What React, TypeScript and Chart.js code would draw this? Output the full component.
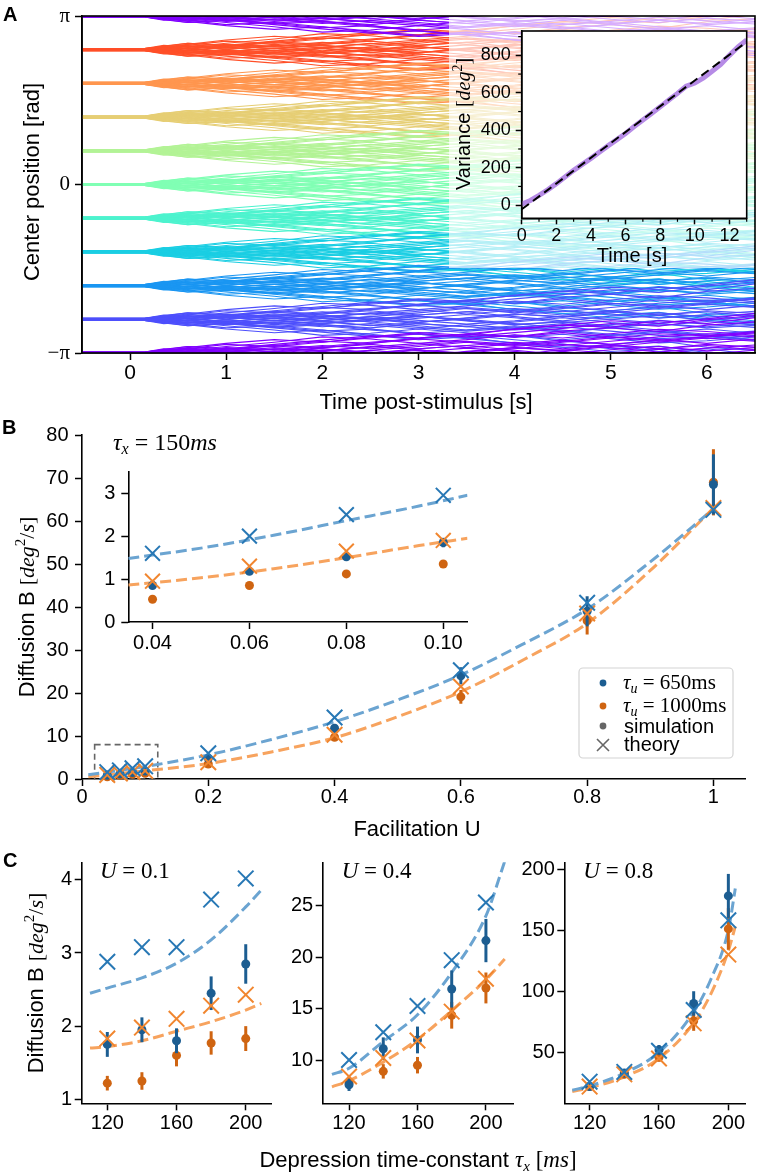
import React, { useEffect, useRef } from 'react';
import { Chart, registerables } from 'chart.js';
Chart.register(...registerables);

const SANS = '"Liberation Sans", Arial, Helvetica, sans-serif';
const SERIF = '"Liberation Serif", "DejaVu Serif", "Times New Roman", serif';

// ---------------- Panel A data ----------------
const timeGrid = [-0.5, 0.15, 0.35, 0.6, 1.0, 1.5, 2.0, 2.5, 3.0, 3.5, 4.0, 4.5, 5.0, 5.5, 6.0, 6.5];
const clusterCentersPi = [-1, -0.8, -0.6, -0.4, -0.2, 0, 0.2, 0.4, 0.6, 0.8];
const clusterColors = ['#8000ff', '#4d4ffc', '#1a96f2', '#1acee3', '#4df3ce', '#80ffb4', '#b3f396', '#e6ce74', '#ff964f', '#ff4f28'];
// deviations (rad) of individual trajectories from their starting position
const offsetPatterns = [
  [0.01, 0.01, 0.05, 0.10, 0.18, 0.25, 0.20, 0.30, 0.38, 0.33, 0.45, 0.52, 0.48, 0.60, 0.55, 0.66],
  [-0.01, -0.01, -0.04, -0.09, -0.05, -0.14, -0.22, -0.18, -0.28, -0.35, -0.30, -0.41, -0.47, -0.40, -0.52, -0.58],
  [0.0, 0.0, 0.02, -0.03, 0.06, 0.02, 0.10, 0.16, 0.08, 0.14, 0.05, -0.03, 0.06, 0.12, 0.04, 0.10],
  [-0.02, -0.02, -0.06, -0.02, -0.10, -0.06, 0.02, -0.05, -0.12, -0.20, -0.14, -0.22, -0.30, -0.25, -0.18, -0.26],
  [0.02, 0.02, 0.08, 0.05, 0.12, 0.20, 0.30, 0.26, 0.18, 0.25, 0.34, 0.28, 0.36, 0.44, 0.40, 0.33],
  [0.0, 0.0, 0.01, 0.06, 0.00, -0.08, -0.04, -0.12, -0.06, 0.03, 0.10, 0.04, 0.12, 0.20, 0.28, 0.22],
  [-0.01, -0.01, -0.03, -0.08, -0.16, -0.12, -0.20, -0.28, -0.36, -0.30, -0.38, -0.46, -0.55, -0.50, -0.62, -0.70],
  [0.01, 0.01, 0.04, 0.01, 0.07, 0.13, 0.08, 0.00, 0.06, -0.02, -0.10, -0.05, -0.14, -0.08, -0.16, -0.11],
  [0.0, 0.0, -0.01, 0.04, 0.09, 0.05, 0.12, 0.20, 0.27, 0.35, 0.30, 0.38, 0.30, 0.22, 0.30, 0.38],
  [0.02, 0.02, 0.06, 0.12, 0.08, 0.16, 0.24, 0.32, 0.28, 0.36, 0.44, 0.52, 0.60, 0.55, 0.64, 0.74],
  [-0.02, -0.02, -0.05, -0.01, 0.04, -0.02, -0.08, -0.02, 0.05, 0.00, -0.08, -0.16, -0.10, -0.02, -0.09, -0.15],
  [0.01, 0.01, 0.03, -0.02, -0.07, -0.15, -0.10, -0.18, -0.26, -0.20, -0.12, -0.20, -0.28, -0.36, -0.32, -0.40],
  [-0.01, -0.01, -0.07, -0.12, -0.08, -0.02, 0.05, 0.00, 0.08, 0.14, 0.20, 0.14, 0.22, 0.30, 0.36, 0.30],
  [0.0, 0.0, 0.02, 0.07, 0.03, 0.10, 0.04, 0.11, 0.18, 0.10, 0.17, 0.24, 0.16, 0.08, 0.14, 0.06],
  [-0.01, -0.01, -0.02, -0.06, -0.01, -0.07, -0.14, -0.08, -0.15, -0.22, -0.16, -0.08, -0.16, -0.24, -0.30, -0.38],
  [0.01, 0.01, 0.0, 0.03, -0.04, 0.03, -0.03, 0.05, -0.02, -0.09, -0.03, 0.06, 0.00, -0.07, 0.02, -0.05],
];
const xTicksA = [0, 1, 2, 3, 4, 5, 6];
const xTickLabelsA = ['0', '1', '2', '3', '4', '5', '6'];
const yTicksA = [-Math.PI, 0, Math.PI];
const yTickLabelsA = ['\u2212\u03c0', '0', '\u03c0'];

// inset A
const varTime = [0, 0.5, 1, 1.5, 2, 2.5, 3, 3.5, 4, 4.5, 5, 5.5, 6, 6.5, 7, 7.5, 8, 8.5, 9, 9.5, 10, 10.5, 11, 11.5, 12, 12.5, 13];
const varValues = [5, 25, 52, 82, 115, 150, 186, 218, 250, 284, 318, 350, 383, 420, 455, 490, 525, 562, 597, 635, 652, 680, 715, 752, 800, 845, 882];
const fitTime = [0, 13];
const fitValues = [-22, 872];
const insetAxTicks = [0, 2, 4, 6, 8, 10, 12];
const insetAxMinor = [1, 3, 5, 7, 9, 11, 13];
const insetAyTicks = [0, 200, 400, 600, 800];
const insetAyMinor = [100, 300, 500, 700, 900];

// ---------------- Panel B data ----------------
const uVals = [0.04, 0.06, 0.08, 0.1, 0.2, 0.4, 0.6, 0.8, 1.0];
const theoryBlueB = [1.6, 2.0, 2.5, 2.95, 6.0, 14.3, 25.3, 41.0, 62.6];
const theoryOrangeB = [0.95, 1.3, 1.65, 1.9, 3.9, 10.3, 21.5, 38.5, 63.0];
const simBlueB = [0.85, 1.18, 1.52, 1.85, 4.8, 11.8, 24.0, 39.0, 68.5];
const simOrangeB = [0.53, 0.85, 1.12, 1.35, 3.5, 9.7, 19.1, 36.8, 69.0];
const errBlueB = [0.06, 0.07, 0.09, 0.11, 0.4, 1.0, 2.0, 3.5, 7.0];
const errOrangeB = [0.05, 0.06, 0.07, 0.09, 0.3, 0.8, 1.6, 3.2, 7.7];
const curveU = [0.01, 0.1, 0.2, 0.3, 0.4, 0.5, 0.6, 0.7, 0.8, 0.9, 1.0];
const curveBlueB = [1.0, 2.9, 5.6, 9.2, 13.3, 18.4, 24.2, 31.5, 39.5, 50.5, 62.8];
const curveOrangeB = [0.5, 1.9, 3.6, 6.3, 9.6, 14.5, 20.3, 27.8, 36.2, 48.5, 63.0];
const xTicksB = [0, 0.2, 0.4, 0.6, 0.8, 1.0];
const xTickLabelsB = ['0', '0.2', '0.4', '0.6', '0.8', '1'];
const yTicksB = [0, 10, 20, 30, 40, 50, 60, 70, 80];
const zoomBoxU = [0.02, 0.12];
const zoomBoxB = [0, 8];
// inset B
const insetCurveU = [0.035, 0.05, 0.065, 0.08, 0.095, 0.105];
const insetCurveBlue = [1.48, 1.72, 2.02, 2.36, 2.7, 2.95];
const insetCurveOrange = [0.86, 1.03, 1.24, 1.5, 1.78, 1.95];
const xTicksInsetB = [0.04, 0.06, 0.08, 0.1];
const xTickLabelsInsetB = ['0.04', '0.06', '0.08', '0.10'];
const yTicksInsetB = [0, 1, 2, 3];

// ---------------- Panel C data ----------------
const tauVals = [120, 140, 160, 180, 200];
const xTicksC = [120, 160, 200];
// U = 0.1
const tauCurveC1 = [110, 120, 140, 160, 180, 200, 209];
const curveBlueC1 = [2.45, 2.52, 2.66, 2.86, 3.18, 3.63, 3.86];
const curveOrangeC1 = [1.70, 1.72, 1.80, 1.93, 2.06, 2.22, 2.31];
const theoryBlueC1 = [2.88, 3.08, 3.08, 3.73, 4.02];
const simBlueC1 = [1.75, 1.95, 1.8, 2.45, 2.85];
const errBlueC1 = [0.17, 0.17, 0.17, 0.23, 0.27];
const theoryOrangeC1 = [1.83, 1.98, 2.1, 2.28, 2.43];
const simOrangeC1 = [1.22, 1.25, 1.6, 1.77, 1.83];
const errOrangeC1 = [0.1, 0.12, 0.15, 0.16, 0.17];
const yTicksC1 = [1, 2, 3, 4];
// U = 0.4
const tauCurveC2 = [110, 120, 140, 160, 180, 200, 211];
const curveBlueC2 = [8.6, 9.2, 11.8, 14.4, 18.5, 24.0, 29.3];
const curveOrangeC2 = [7.4, 8.0, 9.8, 12.0, 14.8, 17.8, 19.8];
const theoryBlueC2 = [10.0, 12.7, 15.25, 19.7, 25.3];
const simBlueC2 = [7.6, 11.1, 11.95, 16.9, 21.6];
const errBlueC2 = [0.6, 1.1, 1.3, 1.8, 2.1];
const theoryOrangeC2 = [8.4, 10.2, 11.9, 14.7, 17.9];
const simOrangeC2 = [7.8, 8.9, 9.5, 14.35, 17.0];
const errOrangeC2 = [0.6, 0.7, 0.8, 1.3, 1.5];
const yTicksC2 = [10, 15, 20, 25];
// U = 0.8
const tauCurveC3 = [110, 120, 140, 160, 180, 190, 200, 204];
const curveBlueC3 = [19, 22.5, 33, 50, 83, 110, 150, 184];
const curveOrangeC3 = [18, 21, 30, 45, 74, 98, 133, 153];
const theoryBlueC3 = [26, 34, 51.3, 84.6, 158];
const simBlueC3 = [22, 33, 52, 90, 178];
const errBlueC3 = [2, 3, 4, 10, 18];
const theoryOrangeC3 = [22, 32, 45, 73.7, 130];
const simOrangeC3 = [22, 32, 46, 75.6, 151];
const errOrangeC3 = [2, 2.5, 3.5, 8, 17];
const yTicksC3 = [50, 100, 150, 200];

// ---------------- colours ----------------
const BLUE_DOT = '#1c5d91';
const ORANGE_DOT = '#cf6411';
const BLUE_X = '#2878b5';
const ORANGE_X = '#f1862f';
const BLUE_LINE = '#6ba4d1';
const ORANGE_LINE = '#f7a35e';
const PURPLE = '#b68be6';

// ---------------- helpers ----------------
type Seg = { t: string; f: string; dy?: number };
function drawRich(ctx: any, segs: Seg[], x: number, y: number, align: string = 'left', rot = 0, color = '#000') {
  ctx.save();
  ctx.translate(x, y);
  ctx.rotate(rot);
  ctx.fillStyle = color;
  ctx.textAlign = 'left';
  ctx.textBaseline = 'alphabetic';
  let w = 0;
  for (const s of segs) { ctx.font = s.f; w += ctx.measureText(s.t).width; }
  let cx = align === 'center' ? -w / 2 : 0;
  for (const s of segs) { ctx.font = s.f; ctx.fillText(s.t, cx, s.dy || 0); cx += ctx.measureText(s.t).width; }
  ctx.restore();
}
const sans = (n: number, w = '') => `${w} ${n}px ${SANS}`.trim();
const serif = (n: number, st = '') => `${st} ${n}px ${SERIF}`.trim();

function mkAxis(o: any) {
  return {
    type: 'linear',
    min: o.min,
    max: o.max,
    afterFit: (s: any) => { if (o.fit === 'w') s.width = o.size; else s.height = o.size; },
    afterBuildTicks: (s: any) => { s.ticks = o.ticks.map((v: number) => ({ value: v })); },
    ticks: {
      autoSkip: false, maxRotation: 0, minRotation: 0, includeBounds: false,
      padding: o.pad ?? 4, color: '#000',
      font: o.font ?? { family: SANS, size: 20, lineHeight: 1 },
      callback: (_v: any, i: number) => (o.labels ? o.labels[i] : String(o.ticks[i])),
    },
    grid: { display: true, drawOnChartArea: false, drawTicks: true, tickLength: o.tl ?? 7, tickColor: '#000', tickWidth: 1.5 },
    border: { display: true, color: '#000', width: 1.6 },
  };
}

function baseOptions(top: number, right: number, scales: any) {
  return {
    responsive: false,
    animation: false,
    events: [],
    devicePixelRatio: 1,
    layout: { padding: { top, right, left: 0, bottom: 0 } },
    plugins: { legend: { display: false }, tooltip: { enabled: false }, title: { display: false } },
    scales,
  };
}

const errorBarPlugin = {
  id: 'errorBars',
  beforeDatasetDraw(chart: any, args: any) {
    const ds = chart.data.datasets[args.index];
    if (!ds.errs) return;
    const { ctx } = chart;
    const x = chart.scales.x;
    const y = chart.scales.y;
    ctx.save();
    ctx.strokeStyle = ds.pointBackgroundColor;
    ctx.lineWidth = ds.errWidth || 3;
    ds.data.forEach((p: any, i: number) => {
      const px = x.getPixelForValue(p.x);
      ctx.beginPath();
      ctx.moveTo(px, y.getPixelForValue(p.y - ds.errs[i]));
      ctx.lineTo(px, y.getPixelForValue(p.y + ds.errs[i]));
      ctx.stroke();
    });
    ctx.restore();
  },
};

const pts = (xs: number[], ys: number[]) => xs.map((x, i) => ({ x, y: ys[i] }));

function curveSet(xs: number[], ys: number[], color: string, order: number) {
  return { data: pts(xs, ys), borderColor: color, borderWidth: 3, borderDash: [11, 5], pointRadius: 0, cubicInterpolationMode: 'monotone', fill: false, order };
}
function crossSet(xs: number[], ys: number[], color: string, order: number, r = 11) {
  return { data: pts(xs, ys), showLine: false, pointStyle: 'crossRot', pointRadius: r, pointBorderWidth: 2, pointBorderColor: color, borderColor: color, pointBackgroundColor: color, order, clip: false };
}
function dotSet(xs: number[], ys: number[], errs: number[], color: string, order: number, r = 4.5) {
  return { data: pts(xs, ys), showLine: false, pointStyle: 'circle', pointRadius: r, pointBorderWidth: 0, pointBackgroundColor: color, borderColor: color, errs, errWidth: 3, order, clip: false };
}

// ---------------- Panel A ----------------
function makePanelA() {
  const datasets: any[] = [];
  const nP = offsetPatterns.length;
  clusterCentersPi.forEach((c, k) => {
    const centers = k === 0 ? [c, c + 2] : [c];
    centers.forEach((cc) => {
      offsetPatterns.forEach((p, j) => {
        const q = offsetPatterns[(j + 3 + k) % nP];
        [p, q].forEach((pat, s) => {
          const sg = s === 0 ? 1 : -1;
          datasets.push({
            data: timeGrid.map((t, i) => ({ x: t, y: cc * Math.PI + sg * pat[i] })),
            borderColor: clusterColors[k], borderWidth: 1.1, pointRadius: 0, tension: 0, fill: false,
          });
        });
      });
    });
  });
  const plugin = {
    id: 'panelA',
    afterDraw(chart: any) {
      const { ctx, chartArea: a } = chart;
      ctx.save(); ctx.strokeStyle = '#000'; ctx.lineWidth = 1.6; ctx.strokeRect(a.left, a.top, a.width, a.height); ctx.restore();
      drawRich(ctx, [{ t: 'A', f: sans(20, 'bold') }], 3, 21);
      drawRich(ctx, [{ t: 'Time post-stimulus [s]', f: sans(22) }], 426, 409, 'center');
      drawRich(ctx, [{ t: 'Center position [rad]', f: sans(22) }], 39, 182, 'center', -Math.PI / 2);
    },
  };
  return {
    type: 'line',
    data: { datasets },
    options: baseOptions(16, 3, {
      x: mkAxis({ min: -0.5, max: 6.5, ticks: xTicksA, labels: xTickLabelsA, fit: 'h', size: 62, pad: 2.5, font: { family: SANS, size: 21, lineHeight: 1 } }),
      y: mkAxis({ min: -Math.PI, max: Math.PI, ticks: yTicksA, labels: yTickLabelsA, fit: 'w', size: 82, pad: 5, font: { family: SERIF, size: 21, lineHeight: 1 } }),
    }),
    plugins: [plugin],
  };
}

function makeInsetA() {
  const plugin = {
    id: 'insetA',
    beforeDraw(chart: any) {
      const { ctx, width, height, chartArea: a } = chart;
      ctx.save();
      ctx.fillStyle = 'rgba(255,255,255,0.68)';
      ctx.fillRect(0, 0, width, height);
      ctx.fillStyle = '#fff';
      ctx.fillRect(a.left, a.top, a.width, a.height);
      ctx.restore();
    },
    afterDraw(chart: any) {
      const { ctx, chartArea: a, scales } = chart;
      ctx.save();
      ctx.strokeStyle = '#000'; ctx.lineWidth = 1.6;
      ctx.strokeRect(a.left, a.top, a.width, a.height);
      ctx.lineWidth = 1.2;
      insetAxMinor.forEach((v) => { const px = scales.x.getPixelForValue(v); ctx.beginPath(); ctx.moveTo(px, a.bottom); ctx.lineTo(px, a.bottom + 3.5); ctx.stroke(); });
      insetAyMinor.forEach((v) => { const py = scales.y.getPixelForValue(v); ctx.beginPath(); ctx.moveTo(a.left, py); ctx.lineTo(a.left - 3.5, py); ctx.stroke(); });
      ctx.restore();
      drawRich(ctx, [{ t: 'Time [s]', f: sans(20) }], 183, 245, 'center');
      drawRich(ctx, [
        { t: 'Variance ', f: sans(20) },
        { t: '[', f: serif(20) },
        { t: 'deg', f: serif(20, 'italic') },
        { t: '2', f: serif(14), dy: -8 },
        { t: ']', f: serif(20) },
      ], 20.5, 107, 'center', -Math.PI / 2);
    },
  };
  return {
    type: 'line',
    data: {
      datasets: [
        { data: pts(fitTime, fitValues), borderColor: '#000', borderWidth: 2, borderDash: [9, 5], pointRadius: 0, order: 1 },
        { data: pts(varTime, varValues), borderColor: PURPLE, borderWidth: 5, pointRadius: 0, tension: 0, order: 2 },
      ],
    },
    options: baseOptions(7, 7.3, {
      x: mkAxis({ min: 0, max: 13, ticks: insetAxTicks, fit: 'h', size: 49.7, pad: 2.7, tl: 6, font: { family: SANS, size: 18, lineHeight: 1 } }),
      y: mkAxis({ min: -70, max: 930, ticks: insetAyTicks, fit: 'w', size: 72.7, pad: 5, tl: 6, font: { family: SANS, size: 18, lineHeight: 1 } }),
    }),
    plugins: [plugin],
  };
}

// ---------------- Panel B ----------------
function makePanelB() {
  const plugin = {
    id: 'panelB',
    beforeDatasetsDraw(chart: any) {
      const { ctx, scales } = chart;
      const x0 = scales.x.getPixelForValue(zoomBoxU[0]);
      const x1 = scales.x.getPixelForValue(zoomBoxU[1]);
      const y0 = scales.y.getPixelForValue(zoomBoxB[0]);
      const y1 = scales.y.getPixelForValue(zoomBoxB[1]);
      ctx.save();
      ctx.strokeStyle = '#666'; ctx.lineWidth = 1.6; ctx.setLineDash([6, 4]);
      ctx.strokeRect(x0, y1, x1 - x0, y0 - y1);
      ctx.restore();
    },
    afterDraw(chart: any) {
      const { ctx } = chart;
      drawRich(ctx, [{ t: 'B', f: sans(20, 'bold') }], 2, 19);
      drawRich(ctx, [{ t: 'Facilitation U', f: sans(22) }], 417, 421, 'center');
      drawRich(ctx, [
        { t: 'Diffusion B ', f: sans(22) },
        { t: '[', f: serif(22) },
        { t: 'deg', f: serif(22, 'italic') },
        { t: '2', f: serif(15), dy: -9 },
        { t: '/', f: serif(22) },
        { t: 's', f: serif(22, 'italic') },
        { t: ']', f: serif(22) },
      ], 34, 192, 'center', -Math.PI / 2);
      drawRich(ctx, [
        { t: '\u03c4', f: serif(24, 'italic') },
        { t: 'x', f: serif(16, 'italic'), dy: 4 },
        { t: ' = 150', f: serif(24) },
        { t: 'ms', f: serif(24, 'italic') },
      ], 113, 35);
      // legend
      const L = 579, T = 253, R = 733, Bm = 343;
      ctx.save();
      ctx.fillStyle = 'rgba(255,255,255,0.85)';
      ctx.strokeStyle = '#d4d4d4';
      ctx.lineWidth = 1.2;
      ctx.beginPath();
      if (ctx.roundRect) ctx.roundRect(L, T, R - L, Bm - T, 4); else ctx.rect(L, T, R - L, Bm - T);
      ctx.fill(); ctx.stroke();
      const mx = 603;
      const dot = (cy: number, col: string) => { ctx.fillStyle = col; ctx.beginPath(); ctx.arc(mx, cy, 3.4, 0, Math.PI * 2); ctx.fill(); };
      dot(268, BLUE_DOT);
      dot(291, ORANGE_DOT);
      dot(311, '#666');
      ctx.strokeStyle = '#666'; ctx.lineWidth = 1.6;
      ctx.beginPath(); ctx.moveTo(mx - 6, 324); ctx.lineTo(mx + 6, 336); ctx.moveTo(mx + 6, 324); ctx.lineTo(mx - 6, 336); ctx.stroke();
      ctx.restore();
      drawRich(ctx, [
        { t: '\u03c4', f: serif(21, 'italic') },
        { t: 'u', f: serif(14, 'italic'), dy: 4 },
        { t: ' = 650ms', f: serif(21) },
      ], 623, 274);
      drawRich(ctx, [
        { t: '\u03c4', f: serif(21, 'italic') },
        { t: 'u', f: serif(14, 'italic'), dy: 4 },
        { t: ' = 1000ms', f: serif(21) },
      ], 623, 297);
      drawRich(ctx, [{ t: 'simulation', f: sans(20) }], 624, 318);
      drawRich(ctx, [{ t: 'theory', f: sans(20) }], 624, 336);
    },
  };
  return {
    type: 'line',
    data: {
      datasets: [
        curveSet(curveU, curveOrangeB, ORANGE_LINE, 6),
        curveSet(curveU, curveBlueB, BLUE_LINE, 5),
        dotSet(uVals, simOrangeB, errOrangeB, ORANGE_DOT, 4),
        dotSet(uVals, simBlueB, errBlueB, BLUE_DOT, 3),
        crossSet(uVals, theoryOrangeB, ORANGE_X, 2),
        crossSet(uVals, theoryBlueB, BLUE_X, 1),
      ],
    },
    options: baseOptions(20, 5, {
      x: mkAxis({ min: 0, max: 1.05, ticks: xTicksB, labels: xTickLabelsB, fit: 'h', size: 66, pad: 1 }),
      y: mkAxis({ min: 0, max: 80, ticks: yTicksB, fit: 'w', size: 82, pad: 6.5 }),
    }),
    plugins: [errorBarPlugin, plugin],
  };
}

function makeInsetB() {
  const n = xTicksInsetB.length;
  return {
    type: 'line',
    data: {
      datasets: [
        curveSet(insetCurveU, insetCurveOrange, ORANGE_LINE, 6),
        curveSet(insetCurveU, insetCurveBlue, BLUE_LINE, 5),
        dotSet(uVals.slice(0, n), simOrangeB.slice(0, n), errOrangeB.slice(0, n), ORANGE_DOT, 4),
        dotSet(uVals.slice(0, n), simBlueB.slice(0, n), errBlueB.slice(0, n), BLUE_DOT, 3),
        crossSet(uVals.slice(0, n), theoryOrangeB.slice(0, n), ORANGE_X, 2, 10.5),
        crossSet(uVals.slice(0, n), theoryBlueB.slice(0, n), BLUE_X, 1, 10.5),
      ],
    },
    options: baseOptions(41.7, 10.7, {
      x: mkAxis({ min: 0.035, max: 0.105, ticks: xTicksInsetB, labels: xTickLabelsInsetB, fit: 'h', size: 38, pad: 4.3 }),
      y: mkAxis({ min: 0, max: 3.5, ticks: yTicksInsetB, fit: 'w', size: 38.3, pad: 6 }),
    }),
    plugins: [errorBarPlugin],
  };
}

// ---------------- Panel C ----------------
function makeC(o: any) {
  const plugin = {
    id: 'panelC',
    afterDraw(chart: any) {
      const { ctx } = chart;
      drawRich(ctx, [
        { t: 'U', f: serif(23, 'italic') },
        { t: ' = ' + o.uLabel, f: serif(23) },
      ], o.uX, 33);
      if (o.main) {
        drawRich(ctx, [{ t: 'C', f: sans(20, 'bold') }], 3, 22);
        drawRich(ctx, [
          { t: 'Diffusion B ', f: sans(22) },
          { t: '[', f: serif(22) },
          { t: 'deg', f: serif(22, 'italic') },
          { t: '2', f: serif(15), dy: -9 },
          { t: '/', f: serif(22) },
          { t: 's', f: serif(22, 'italic') },
          { t: ']', f: serif(22) },
        ], 43, 138, 'center', -Math.PI / 2);
        drawRich(ctx, [
          { t: 'Depression time-constant ', f: sans(22) },
          { t: '\u03c4', f: serif(23, 'italic') },
          { t: 'x', f: serif(15, 'italic'), dy: 4 },
          { t: ' [', f: serif(23) },
          { t: 'ms', f: serif(23, 'italic') },
          { t: ']', f: serif(23) },
        ], 418, 322, 'center');
      }
    },
  };
  return {
    type: 'line',
    data: {
      datasets: [
        curveSet(o.curveX, o.curveOrange, ORANGE_LINE, 6),
        curveSet(o.curveX, o.curveBlue, BLUE_LINE, 5),
        dotSet(tauVals, o.simOrange, o.errOrange, ORANGE_DOT, 4),
        dotSet(tauVals, o.simBlue, o.errBlue, BLUE_DOT, 3),
        crossSet(tauVals, o.theoryOrange, ORANGE_X, 2),
        crossSet(tauVals, o.theoryBlue, BLUE_X, 1),
      ],
    },
    options: baseOptions(17.3, o.right, {
      x: mkAxis({ min: o.xmin, max: o.xmax, ticks: xTicksC, fit: 'h', size: 70.7, pad: 3 }),
      y: mkAxis({ min: o.ymin, max: o.ymax, ticks: o.yTicks, fit: 'w', size: o.left, pad: 2.5 }),
    }),
    plugins: [errorBarPlugin, plugin],
  };
}

const makeC1 = () => makeC({
  main: true, uLabel: '0.1', uX: 100, left: 81.7, right: 486.3, xmin: 105.2, xmax: 215, ymin: 0.945, ymax: 4.24, yTicks: yTicksC1,
  curveX: tauCurveC1, curveBlue: curveBlueC1, curveOrange: curveOrangeC1,
  theoryBlue: theoryBlueC1, theoryOrange: theoryOrangeC1, simBlue: simBlueC1, simOrange: simOrangeC1, errBlue: errBlueC1, errOrange: errOrangeC1,
});
const makeC2 = () => makeC({
  main: false, uLabel: '0.4', uX: 81.7, left: 62.7, right: 26.7, xmin: 104.6, xmax: 216, ymin: 5.8, ymax: 29.2, yTicks: yTicksC2,
  curveX: tauCurveC2, curveBlue: curveBlueC2, curveOrange: curveOrangeC2,
  theoryBlue: theoryBlueC2, theoryOrange: theoryOrangeC2, simBlue: simBlueC2, simOrange: simOrangeC2, errBlue: errBlueC2, errOrange: errOrangeC2,
});
const makeC3 = () => makeC({
  main: false, uLabel: '0.8', uX: 83.3, left: 64.3, right: 3, xmin: 105.4, xmax: 209.6, ymin: 8.3, ymax: 205.5, yTicks: yTicksC3,
  curveX: tauCurveC3, curveBlue: curveBlueC3, curveOrange: curveOrangeC3,
  theoryBlue: theoryBlueC3, theoryOrange: theoryOrangeC3, simBlue: simBlueC3, simOrange: simOrangeC3, errBlue: errBlueC3, errOrange: errOrangeC3,
});

function ChartCanvas({ x, y, w, h, make }: any) {
  const ref = useRef<HTMLCanvasElement>(null);
  useEffect(() => {
    const chart = new Chart(ref.current as any, make() as any);
    return () => chart.destroy();
  }, []);
  return <canvas ref={ref} width={w} height={h} style={{ position: 'absolute', left: x, top: y, width: w, height: h }} />;
}

export default function App() {
  return (
    <div style={{ position: 'absolute', left: 0, top: 0, width: 758, height: 1174, background: '#fff', overflow: 'hidden' }}>
      <ChartCanvas x={0} y={0} w={758} h={415} make={makePanelA} />
      <ChartCanvas x={449} y={17} w={305} h={251} make={makeInsetA} />
      <ChartCanvas x={0} y={415} w={758} h={430} make={makePanelB} />
      <ChartCanvas x={90} y={430} w={390} h={230} make={makeInsetB} />
      <ChartCanvas x={0} y={845} w={758} h={329} make={makeC1} />
      <ChartCanvas x={260} y={845} w={280} h={329} make={makeC2} />
      <ChartCanvas x={500} y={845} w={258} h={329} make={makeC3} />
    </div>
  );
}
